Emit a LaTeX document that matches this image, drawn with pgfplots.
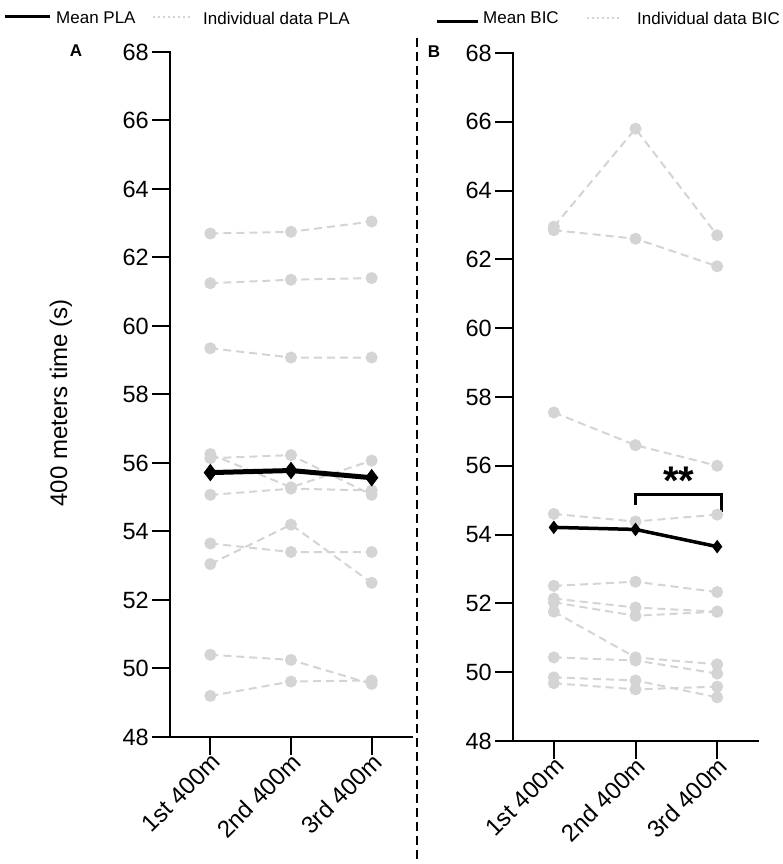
\documentclass[border=0pt]{standalone}
\usepackage{fontspec}
\setmainfont{Liberation Sans}
\usepackage{pgfplots}
\pgfplotsset{compat=1.18}

\definecolor{indiv}{RGB}{212,212,212}

\pgfplotsset{
  prism/.style={
    scale only axis,
    axis lines*=left,
    axis line style={-, line width=2pt, black, line cap=rect},
    xmin=-0.5, xmax=2.5, ymin=48, ymax=68,
    ytick={48,50,...,68},
    xtick={0,1,2},
    xticklabels={1st 400m, 2nd 400m, 3rd 400m},
    tick align=outside,
    major tick length=18pt,
    tick style={line width=2pt, black},
    ticklabel style={font=\fontsize{23.5}{24}\selectfont},
    /pgf/number format/assume math mode=true,
    xticklabel style={rotate=45, anchor=east, inner sep=0pt,
      font=\fontsize{24}{24}\selectfont, yshift=-6pt, xshift=2pt},
    yticklabel style={inner sep=0pt, xshift=-3pt},
    clip=false,
  },
  subj/.style={indiv, line width=2pt, dash pattern=on 8pt off 5pt,
    mark=*, mark size=5pt, mark options={solid, fill=indiv, draw=indiv}},
}

\begin{document}
\begin{tikzpicture}
\useasboundingbox (0,0) rectangle (783pt,864pt);

% ---------------- Panel A: placebo ----------------
\begin{axis}[prism, at={(170pt,127pt)}, anchor=south west,
    width=242pt, height=685pt]
  \addplot[subj] coordinates {(0,62.70) (1,62.75) (2,63.05)};
  \addplot[subj] coordinates {(0,61.25) (1,61.35) (2,61.40)};
  \addplot[subj] coordinates {(0,59.35) (1,59.08) (2,59.08)};
  \addplot[subj] coordinates {(0,56.26) (1,55.29) (2,56.07)};
  \addplot[subj] coordinates {(0,56.14) (1,56.23) (2,55.07)};
  \addplot[subj] coordinates {(0,55.07) (1,55.25) (2,55.20)};
  \addplot[subj] coordinates {(0,53.65) (1,53.40) (2,53.40)};
  \addplot[subj] coordinates {(0,53.05) (1,54.20) (2,52.50)};
  \addplot[subj] coordinates {(0,50.40) (1,50.25) (2,49.55)};
  \addplot[subj] coordinates {(0,49.20) (1,49.62) (2,49.65)};
  % group mean
  \addplot[black, line width=5pt, mark=diamond*, mark size=8pt,
    mark options={solid, fill=black, line width=1pt}]
    coordinates {(0,55.72) (1,55.78) (2,55.57)};
\end{axis}

% ---------------- Panel B: bicarbonate ----------------
\begin{axis}[prism, at={(513pt,123pt)}, anchor=south west,
    width=245pt, height=688pt]
  \addplot[subj] coordinates {(0,62.95) (1,65.80) (2,62.70)};
  \addplot[subj] coordinates {(0,62.85) (1,62.60) (2,61.80)};
  \addplot[subj] coordinates {(0,57.55) (1,56.60) (2,56.00)};
  \addplot[subj] coordinates {(0,54.60) (1,54.38) (2,54.58)};
  \addplot[subj] coordinates {(0,52.51) (1,52.63) (2,52.33)};
  \addplot[subj] coordinates {(0,52.14) (1,51.88) (2,51.76)};
  \addplot[subj] coordinates {(0,52.03) (1,51.64) (2,51.76)};
  \addplot[subj] coordinates {(0,51.76) (1,50.43) (2,50.23)};
  \addplot[subj] coordinates {(0,50.43) (1,50.34) (2,49.96)};
  \addplot[subj] coordinates {(0,49.85) (1,49.76) (2,49.27)};
  \addplot[subj] coordinates {(0,49.68) (1,49.50) (2,49.58)};
  % group mean
  \addplot[black, line width=3.5pt, mark=diamond*, mark size=6pt,
    mark options={solid, fill=black, line width=1pt}]
    coordinates {(0,54.21) (1,54.15) (2,53.65)};
  % significance bracket 2nd vs 3rd
  \addplot[black, line width=3pt, line join=miter, no marks]
    coordinates {(1,54.86) (1,55.18) (2.05,55.18) (2.05,54.65)};
  \node[font=\bfseries\fontsize{40}{40}\selectfont, anchor=base, inner sep=0pt]
    at (axis cs:1.53,55.18) {**};
\end{axis}

% y axis title
\node[rotate=90, font=\fontsize{24}{24}\selectfont] at (61pt,461pt) {400 meters time (s)};

% panel letters
\node[font=\bfseries\fontsize{17}{17}\selectfont] at (76pt,813pt) {A};
\node[font=\bfseries\fontsize{17}{17}\selectfont] at (434pt,812pt) {B};

% separator between panels
\draw[black, line width=2.7pt, dash pattern=on 9pt off 5pt] (417pt,826pt) -- (417pt,0pt);

% legends
\draw[black, line width=3pt] (5pt,847pt) -- (50pt,847pt);
\node[anchor=west, inner sep=0pt, font=\fontsize{17}{17}\selectfont] at (56pt,846pt) {Mean PLA};
\draw[indiv, line width=2.5pt, dash pattern=on 2pt off 3pt] (153pt,847pt) -- (192pt,847pt);
\node[anchor=west, inner sep=0pt, font=\fontsize{17}{17}\selectfont] at (203pt,846pt) {Individual data PLA};

\draw[black, line width=3pt] (437pt,842pt) -- (478pt,842pt);
\node[anchor=west, inner sep=0pt, font=\fontsize{17}{17}\selectfont] at (483pt,846pt) {Mean BIC};
\draw[indiv, line width=2.5pt, dash pattern=on 2pt off 3pt] (587pt,846pt) -- (620pt,846pt);
\node[anchor=west, inner sep=0pt, font=\fontsize{17}{17}\selectfont] at (637pt,846pt) {Individual data BIC};
\end{tikzpicture}
\end{document}
